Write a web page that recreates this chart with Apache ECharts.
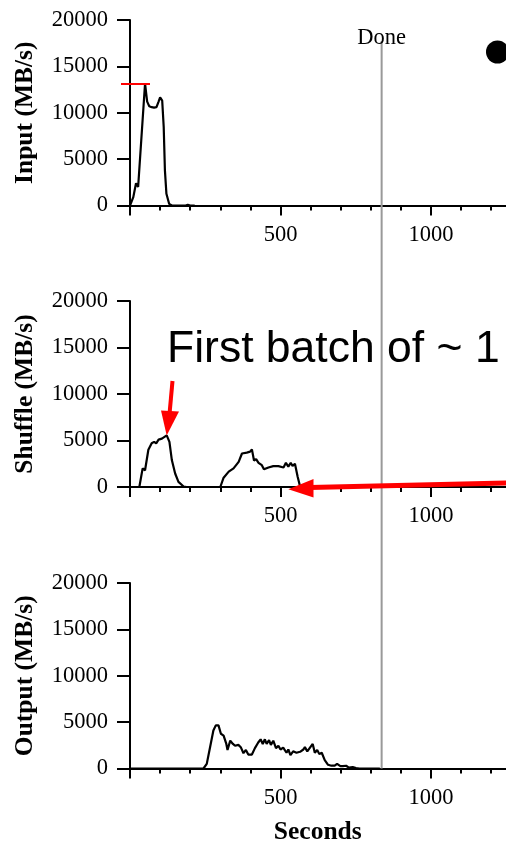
<!DOCTYPE html>
<html><head><meta charset="utf-8">
<script src="https://cdn.jsdelivr.net/npm/echarts@6/dist/echarts.min.js"></script>
<style>html,body{margin:0;padding:0;background:#fff}#c{width:506px;height:843px}</style>
</head><body><div id="c"></div>
<script>
// ---- data (seconds, MB/s) ----
const inputSeconds = [0, 11, 20, 27, 50, 57, 64, 72, 80, 88, 95, 100, 107, 112, 116, 121, 130, 139, 160, 185, 192, 200, 215];
const inputValues  = [0, 900, 2400, 2000, 13150, 11200, 10700, 10600, 10550, 10600, 11200, 11650, 11300, 8460, 3780, 1260, 180, 0, 0, 0, 80, 0, 0];

const shuffleSeconds = [0, 31, 42, 50, 61, 72, 80, 87, 95, 106, 122, 131, 139, 150, 161, 178, 188, 300, 311, 328, 344, 361, 372, 388, 399, 405, 412, 419, 427, 438, 445, 460, 476, 493, 510, 518, 526, 534, 540, 548, 557, 565, 580];
const shuffleValues  = [0, 0, 2000, 1800, 4000, 4700, 4850, 4700, 5100, 5200, 5550, 4850, 2900, 1450, 550, 50, 0, 0, 1000, 1650, 2000, 2700, 3600, 3700, 3800, 4050, 2850, 3000, 2600, 2350, 1900, 2100, 2250, 2250, 2100, 2600, 2200, 2600, 2250, 2500, 1100, 50, 0];

const outputSeconds = [0, 244, 255, 266, 277, 285, 294, 302, 311, 320, 324, 333, 342, 349, 360, 368, 377, 385, 393, 405, 415, 426, 434, 441, 448, 454, 462, 468, 476, 485, 493, 500, 509, 520, 526, 533, 542, 553, 565, 576, 581, 589, 598, 607, 614, 622, 629, 637, 647, 658, 669, 680, 688, 699, 707, 718, 727, 740, 751, 762, 830];
const outputValues  = [0, 0, 500, 2300, 4100, 4650, 4650, 3750, 3550, 2650, 2000, 3000, 2650, 2450, 2550, 2300, 1650, 2000, 1500, 1500, 2200, 2800, 3150, 2650, 3150, 2650, 3050, 2550, 3000, 2200, 2450, 2050, 2250, 1700, 2050, 1450, 1850, 1700, 1800, 2050, 2300, 1850, 2250, 2650, 1700, 2000, 1550, 1700, 900, 400, 300, 300, 500, 250, 250, 300, 100, 150, 50, 0, 0];

const yTicks = [0, 5000, 10000, 15000, 20000];
const xLabelValues = [500, 1000];
const axisTitles = ['Input (MB/s)', 'Shuffle (MB/s)', 'Output (MB/s)'];
const xTitle = 'Seconds';
const doneSeconds = 836;
const inputPeakMark = 13100;
const doneLabel = 'Done';
const annotationText = 'First batch of ~ 1';

// ---- chart ----
const SERIF = 'Liberation Serif';
const zip = (a, b) => a.map((x, i) => [x, b[i]]);
const gridTops = [20, 301, 583];
const gridHeights = [185.5, 186, 185.5];

const chart = echarts.init(document.getElementById('c'), null, {renderer: 'canvas'});

const grids = gridTops.map((t, i) => ({left: 130, top: t, width: 451.5, height: gridHeights[i], containLabel: false, outerBoundsMode: 'none'}));
const xAxes = gridTops.map((t, i) => ({
  type: 'value', gridIndex: i, min: 0, max: 1500, interval: 500,
  axisLine: {show: true, onZero: false, lineStyle: {color: '#000', width: 2}},
  axisTick: {show: true, length: 10, inside: false, lineStyle: {color: '#000', width: 2}},
  minorTick: {show: true, splitNumber: 5, length: 5, lineStyle: {color: '#000', width: 2}},
  splitLine: {show: false}, minorSplitLine: {show: false},
  axisLabel: {margin: 18, color: '#000', fontFamily: SERIF, fontSize: 22.5,
    formatter: v => xLabelValues.includes(v) ? String(v) : ''},
  name: i === 2 ? xTitle : '', nameLocation: 'middle', nameGap: 51,
  nameTextStyle: {fontFamily: SERIF, fontWeight: 'bold', fontSize: 25.5, color: '#000', padding: [0, 76, 0, 0]}
}));
const yAxes = gridTops.map((t, i) => ({
  type: 'value', gridIndex: i, min: 0, max: 20000, interval: 5000,
  axisLine: {show: true, lineStyle: {color: '#000', width: 2}},
  axisTick: {show: true, length: 13, inside: false, lineStyle: {color: '#000', width: 2}},
  splitLine: {show: false},
  axisLabel: {margin: 22, color: '#000', fontFamily: SERIF, fontSize: 22.5,
    formatter: v => yTicks.includes(v) ? String(v) : ''},
  name: axisTitles[i], nameLocation: 'middle', nameGap: 92,
  nameTextStyle: {fontFamily: SERIF, fontWeight: 'bold', fontSize: 25.5, color: '#000'}
}));
const mk = (xs, ys, i) => ({
  type: 'line', xAxisIndex: i, yAxisIndex: i, data: zip(xs, ys),
  showSymbol: false, symbol: 'none', smooth: false,
  lineStyle: {color: '#000', width: 2.2}, z: 3
});

chart.setOption({
  animation: false,
  backgroundColor: '#fff',
  grid: grids, xAxis: xAxes, yAxis: yAxes,
  series: [mk(inputSeconds, inputValues, 0), mk(shuffleSeconds, shuffleValues, 1), mk(outputSeconds, outputValues, 2)]
});

// ---- annotations ----
const dx = chart.convertToPixel({xAxisIndex: 0}, doneSeconds);
const dyTop = 41;
const dyBot = chart.convertToPixel({yAxisIndex: 2}, 0);
const peakY = chart.convertToPixel({yAxisIndex: 0}, inputPeakMark);
const RED = '#ff0000';
chart.setOption({
  graphic: [
    {type: 'line', z: 1, shape: {x1: dx, y1: dyTop, x2: dx, y2: dyBot}, style: {stroke: '#999', lineWidth: 2}},
    {type: 'text', z: 10, x: dx, y: 38.5, style: {text: doneLabel, font: '22.5px "Liberation Serif"', fill: '#000', align: 'center', verticalAlign: 'middle'}},
    {type: 'circle', z: 10, shape: {cx: 497.5, cy: 52, r: 11.5}, style: {fill: '#000'}},
    {type: 'line', z: 10, shape: {x1: 121, y1: peakY, x2: 150, y2: peakY}, style: {stroke: RED, lineWidth: 2}},
    {type: 'text', z: 10, x: 167, y: 349.5, style: {text: annotationText, font: '44.5px "Liberation Sans"', fill: '#000', align: 'left', verticalAlign: 'middle'}},
    {type: 'line', z: 10, shape: {x1: 172.5, y1: 381, x2: 169.5, y2: 414}, style: {stroke: RED, lineWidth: 4}},
    {type: 'polygon', z: 10, shape: {points: [[161, 410.5], [179, 411.5], [166.7, 435.5]]}, style: {fill: RED}},
    {type: 'line', z: 10, shape: {x1: 520, y1: 482.8, x2: 310, y2: 487.5}, style: {stroke: RED, lineWidth: 5}},
    {type: 'polygon', z: 10, shape: {points: [[313.5, 479], [313.5, 497.5], [288.3, 489.3]]}, style: {fill: RED}}
  ]
});
</script></body></html>
